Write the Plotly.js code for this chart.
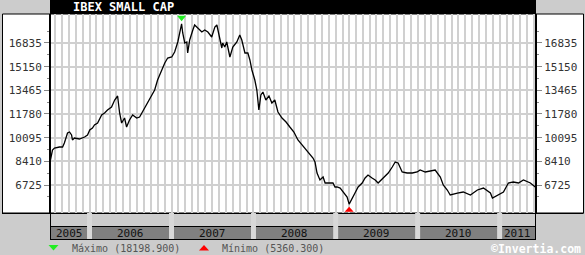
<!DOCTYPE html>
<html>
<head>
<meta charset="utf-8">
<script src="https://cdn.plot.ly/plotly-3.0.1.min.js"></script>
<style>html,body{margin:0;padding:0;background:#cccccc;}#chart{width:585px;height:255px;}</style>
</head>
<body>
<div id="chart"></div>
<script>
// ---- data ----
const chartTitle = 'IBEX SMALL CAP';
const maxValue = 18198.9;
const minValue = 5360.3;

const d2005 = ['2005-07-07','2005-07-11','2005-07-20','2005-07-29','2005-08-20','2005-09-03','2005-09-11','2005-09-25','2005-10-04','2005-10-13','2005-10-17','2005-10-26','2005-11-17','2005-12-10','2005-12-23'];
const v2005 = [8790,8505,9217,9359,9430,9430,9715,10427,10498,10285,9929,10071,10000,10142,10285];

const d2006 = ['2006-01-02','2006-01-14','2006-01-23','2006-02-06','2006-02-24','2006-03-09','2006-03-22','2006-04-09','2006-04-23','2006-05-06','2006-05-15','2006-05-24','2006-06-06','2006-06-15','2006-06-28','2006-07-12','2006-07-30','2006-08-12','2006-09-03','2006-09-26','2006-10-18','2006-10-31','2006-11-18','2006-12-02','2006-12-15'];
const v2006 = [10640,10783,10996,11139,11708,11851,12064,12278,12776,13061,11851,11139,11495,10854,11352,11708,11495,11566,12207,12776,13488,14200,14912,15410,15766];

const d2007 = ['2007-01-02','2007-01-15','2007-01-29','2007-02-15','2007-02-20','2007-03-01','2007-03-10','2007-03-14','2007-03-23','2007-04-06','2007-04-14','2007-04-28','2007-05-16','2007-05-29','2007-06-12','2007-06-29','2007-07-13','2007-07-22','2007-08-04','2007-08-13','2007-08-17','2007-08-26','2007-09-04','2007-09-18','2007-10-01','2007-10-19','2007-11-01','2007-11-10','2007-11-24','2007-12-07','2007-12-16','2007-12-25'];
const v2007 = [15837,16193,16905,18198.9,17546,16834,16905,16122,17048,17759,18115,17902,17617,17759,17617,17261,17973,18115,17261,16478,16834,16549,16905,15837,16549,16905,17404,17048,16122,16122,15624,14912];

const d2008 = ['2008-01-07','2008-01-16','2008-01-25','2008-02-03','2008-02-12','2008-02-25','2008-03-10','2008-03-23','2008-04-05','2008-04-19','2008-05-07','2008-05-25','2008-06-11','2008-06-29','2008-07-17','2008-08-04','2008-08-22','2008-09-09','2008-09-22','2008-10-01','2008-10-10','2008-10-23','2008-11-06','2008-11-15','2008-12-07','2008-12-20','2008-12-29'];
const v2008 = [14200,13488,12064,13132,13346,12776,13061,12563,12776,11922,11495,11210,10854,10498,9929,9573,9217,8861,8647,8362,7579,7081,7295,6867,6867,6867,6583];

const d2009 = ['2009-01-07','2009-01-21','2009-02-03','2009-02-21','2009-03-02','2009-03-15','2009-03-28','2009-04-11','2009-04-29','2009-05-12','2009-05-25','2009-06-12','2009-06-26','2009-07-09','2009-07-31','2009-08-23','2009-09-10','2009-09-23','2009-10-06','2009-10-24','2009-11-15','2009-12-08','2009-12-30'];
const v2009 = [6583,6511,6227,5871,5360.3,5800,6155,6583,6867,7223,7437,7223,7081,6867,7223,7579,8006,8362,8291,7650,7579,7579,7650];

const d2010 = ['2010-01-12','2010-02-04','2010-02-26','2010-03-20','2010-04-12','2010-04-25','2010-05-13','2010-05-26','2010-06-27','2010-07-23','2010-08-24','2010-09-24','2010-10-21','2010-11-21','2010-11-30','2010-12-22'];
const v2010 = [7793,7650,7722,7793,7295,6725,6369,6013,6155,6227,6013,6369,6511,6155,5800,6013];

const d2011 = ['2011-01-18','2011-02-09','2011-03-03','2011-03-26','2011-04-17','2011-05-18','2011-06-09'];
const v2011 = [6227,6867,6939,6867,7081,6867,6583];

const yTicks = [6725,8410,10095,11780,13465,15150,16835];
const yTickLabels = ['6725','8410','10095','11780','13465','15150','16835'];
const years = ['2005','2006','2007','2008','2009','2010','2011'];

const xRange = ['2005-07-09','2011-06-12'];
const yRange = [4732, 18898];

// ---- build ----
const dates = [].concat(d2005,d2006,d2007,d2008,d2009,d2010,d2011);
const values = [].concat(v2005,v2006,v2007,v2008,v2009,v2010,v2011);
const maxIdx = values.indexOf(Math.max.apply(null, values));
const minIdx = values.indexOf(Math.min.apply(null, values));

const L = 50, R = 536, T = 14, B = 213;
const PX = x => (x - L) / (R - L);
const PY = y => (B - y) / (B - T);
const path = pts => 'M' + pts.map(p => PX(p[0]) + ',' + PY(p[1])).join(' L') + ' Z';
const mono = 'DejaVu Sans Mono';

const minorVals = [];
for (let i = 0; i < yTicks.length; i++) minorVals.push(yTicks[i] - (yTicks[1]-yTicks[0])/2);
minorVals.push(yTicks[yTicks.length-1] + (yTicks[1]-yTicks[0])/2);

const shapes = [
  {type:'rect', xref:'paper', yref:'paper', x0:PX(2.5), x1:PX(583.5), y0:PY(213), y1:PY(14), fillcolor:'#ffffff', line:{color:'#000', width:1}, layer:'below'},
  {type:'rect', xref:'paper', yref:'paper', x0:PX(50), x1:PX(536), y0:PY(14), y1:PY(0), fillcolor:'#000', line:{width:0}},
  {type:'rect', xref:'paper', yref:'paper', x0:PX(50.5), x1:PX(535.5), y0:PY(239.5), y1:PY(226.5), fillcolor:'#808080', line:{color:'#000', width:1}},
  {type:'line', xref:'paper', yref:'paper', x0:PX(2), x1:PX(583.5), y0:PY(213.5), y1:PY(213.5), line:{color:'#000', width:1}},
];
// year separators
for (let i = 1; i < years.length; i++) {
  shapes.push({type:'rect', xref:'x', yref:'paper', xsizemode:'pixel', xanchor:years[i]+'-01-01', x0:-2.5, x1:2.5, y0:PY(239), y1:PY(213), fillcolor:'#d8d8d8', line:{width:0}});
}
shapes.push({type:'line', xref:'paper', yref:'paper', x0:PX(50.5), x1:PX(50.5), y0:PY(240), y1:PY(14), line:{color:'#000', width:1}});
shapes.push({type:'line', xref:'paper', yref:'paper', x0:PX(535.5), x1:PX(535.5), y0:PY(240), y1:PY(14), line:{color:'#000', width:1}});
// max / min markers
shapes.push({type:'path', xref:'x', yref:'y', xsizemode:'pixel', ysizemode:'pixel', xanchor:dates[maxIdx], yanchor:values[maxIdx], path:'M-4.5,8 L4.5,8 L0,2.5 Z', fillcolor:'#22ee22', line:{width:0}});
shapes.push({type:'path', xref:'x', yref:'y', xsizemode:'pixel', ysizemode:'pixel', xanchor:dates[minIdx], yanchor:values[minIdx], path:'M-4.5,-7.5 L4.5,-7.5 L0,-2.5 Z', fillcolor:'#ff0000', line:{width:0}});
// legend triangles
shapes.push({type:'path', xref:'paper', yref:'paper', path:path([[48.5,245],[58.5,245],[53.5,250.5]]), fillcolor:'#22ee22', line:{width:0}});
shapes.push({type:'path', xref:'paper', yref:'paper', path:path([[199,250.5],[209,250.5],[204,245]]), fillcolor:'#ff0000', line:{width:0}});

const annotations = [
  {xref:'paper', yref:'paper', x:PX(70.5), y:PY(7.5), xanchor:'left', yanchor:'middle', showarrow:false, text:'<b>'+chartTitle+'</b>', font:{family:mono, size:12, color:'#fff'}},
  {xref:'paper', yref:'paper', x:PX(70), y:PY(249), xanchor:'left', yanchor:'middle', showarrow:false, text:'Máximo ('+maxValue.toFixed(3)+')', font:{family:mono, size:10, color:'#555'}},
  {xref:'paper', yref:'paper', x:PX(220), y:PY(249), xanchor:'left', yanchor:'middle', showarrow:false, text:'Mínimo ('+minValue.toFixed(3)+')', font:{family:mono, size:10, color:'#555'}},
  {xref:'paper', yref:'paper', x:PX(583), y:PY(248.5), xanchor:'right', yanchor:'middle', showarrow:false, text:'<b>©Invertia.com</b>', font:{family:mono, size:11.5, color:'#fff'}},
];
const t0 = new Date(xRange[0]).getTime(), t1 = new Date(xRange[1]).getTime();
years.forEach(y => {
  const a = Math.max(t0, new Date(y+'-01-01').getTime());
  const b = Math.min(t1, new Date((+y+1)+'-01-01').getTime());
  annotations.push({xref:'x', yref:'paper', x:new Date((a+b)/2).toISOString().slice(0,10), y:PY(233), xanchor:'center', yanchor:'middle', showarrow:false, text:y, font:{family:mono, size:11, color:'#111'}});
});

const yCommon = {range:yRange, tickvals:yTicks, ticktext:yTickLabels, ticks:'outside', ticklen:5, tickcolor:'#888', tickwidth:1,
  showgrid:false, zeroline:false, showline:true, linecolor:'#000', linewidth:1, fixedrange:true,
  tickfont:{family:mono, size:11, color:'#333'},
  minor:{tickvals:minorVals, ticks:'outside', ticklen:2, tickcolor:'#888', showgrid:false}};

const data = [
  {type:'scatter', mode:'lines', x:dates, y:values, line:{color:'#000', width:1.3}, hoverinfo:'skip', showlegend:false},
  {type:'scatter', mode:'lines', x:dates, y:values, yaxis:'y2', line:{color:'rgba(0,0,0,0)', width:0}, hoverinfo:'skip', showlegend:false}
];

const layout = {
  width:585, height:255,
  margin:{l:L, r:585-R, t:T, b:255-B, pad:0},
  paper_bgcolor:'#cccccc', plot_bgcolor:'#ffffff',
  showlegend:false,
  xaxis:{type:'date', range:xRange, dtick:'M1', tick0:'2005-01-01', showgrid:true, gridcolor:'#d0d0d0', gridwidth:2,
         showticklabels:false, ticks:'', zeroline:false, showline:false, fixedrange:true},
  yaxis:Object.assign({side:'left'}, yCommon, {showgrid:true, gridcolor:'#d0d0d0', gridwidth:2}),
  yaxis2:Object.assign({side:'right', overlaying:'y'}, yCommon),
  shapes:shapes,
  annotations:annotations
};

Plotly.newPlot('chart', data, layout, {staticPlot:true, displayModeBar:false});
</script>
</body>
</html>
